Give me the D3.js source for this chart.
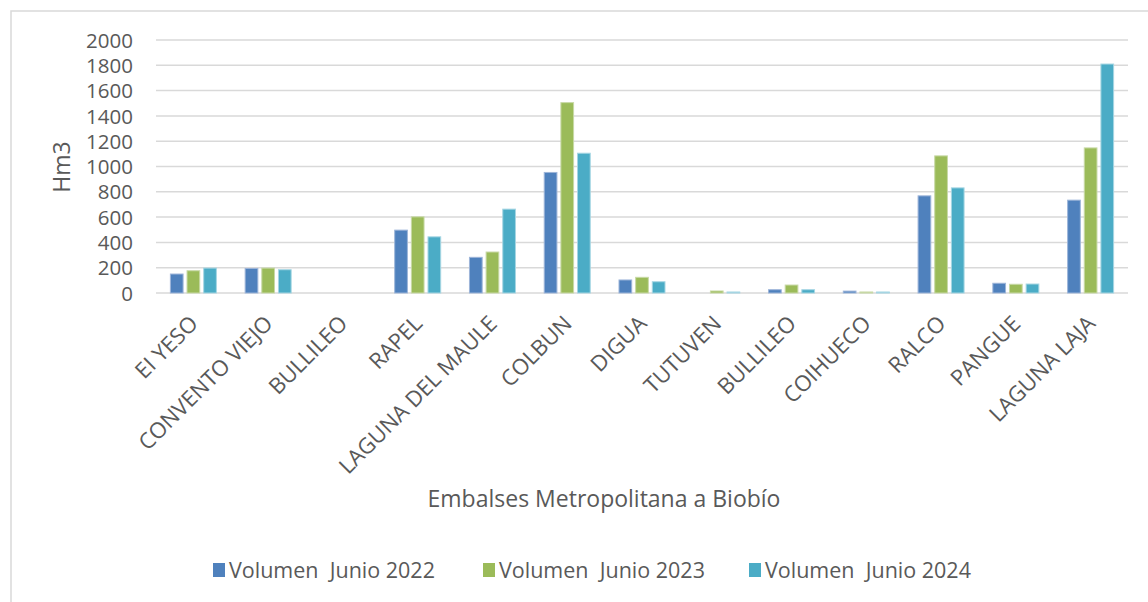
<!DOCTYPE html>
<html>
<head>
<meta charset="utf-8">
<script src="https://cdn.jsdelivr.net/npm/d3@7"></script>
<style>
  body { margin: 0; background: #fff; }
  svg { display: block; }
  text { font-family: "Open Sans", sans-serif; fill: #595959; }
</style>
</head>
<body>
<svg id="chart" width="1148" height="602"></svg>
<script>
const categories = ["EI YESO", "CONVENTO VIEJO", "BULLILEO", "RAPEL", "LAGUNA DEL MAULE", "COLBUN", "DIGUA", "TUTUVEN", "BULLILEO", "COIHUECO", "RALCO", "PANGUE", "LAGUNA LAJA"];
const seriesNames = ["Volumen  Junio 2022", "Volumen  Junio 2023", "Volumen  Junio 2024"];
const vol2022 = [150, 194, 0, 497, 282, 953, 103, 0, 26, 15, 768, 77, 734];
const vol2023 = [176, 197, 0, 602, 324, 1505, 124, 16, 63, 8, 1084, 69, 1147];
const vol2024 = [197, 184, 0, 444, 663, 1105, 89, 8, 26, 8, 831, 71, 1810];
const yTicks = [0, 200, 400, 600, 800, 1000, 1200, 1400, 1600, 1800, 2000];
const colors = ["#4F81BD", "#9BBB59", "#4BACC6"];
const strokes = ["#9db5d9", "#c8d9a6", "#a6d6e3"];

const series = [vol2022, vol2023, vol2024];
const svg = d3.select("#chart");

// outer chart border
svg.append("rect").attr("x", 11).attr("y", 11).attr("width", 1160).attr("height", 620)
  .attr("fill", "none").attr("stroke", "#d9d9d9").attr("stroke-width", 1.5);

const plotLeft = 156, plotRight = 1128, plotTop = 40, plotBottom = 293;
const y = d3.scaleLinear().domain([0, 2000]).range([plotBottom, plotTop]);
const x = d3.scaleBand().domain(d3.range(categories.length)).range([plotLeft, plotRight]).padding(0);
const x1 = d3.scaleBand().domain(d3.range(3)).range([0, x.bandwidth()])
  .paddingInner(0.237).paddingOuter(0.864);

// gridlines
svg.append("g").selectAll("line").data(yTicks).join("line")
  .attr("x1", plotLeft).attr("x2", plotRight)
  .attr("y1", d => y(d)).attr("y2", d => y(d))
  .attr("stroke", "#d9d9d9").attr("stroke-width", 1.5);

// y axis labels
const yAxis = d3.axisLeft(y).tickValues(yTicks).tickSize(0).tickPadding(0).tickFormat(d3.format("d"));
const yg = svg.append("g").attr("transform", `translate(133,0)`).call(yAxis);
yg.select(".domain").remove();
yg.selectAll("text").attr("font-size", 20.5).attr("font-family", "Open Sans").attr("fill", "#595959").attr("dy", "0.35em");

// bars
const groups = svg.append("g").selectAll("g").data(series).join("g")
  .attr("fill", (d, i) => colors[i]).attr("stroke", (d, i) => strokes[i]);
groups.each(function(vals, si) {
  d3.select(this).selectAll("rect").data(vals).join("rect")
    .attr("x", (d, i) => x(i) + x1(si))
    .attr("width", x1.bandwidth())
    .attr("y", d => y(d))
    .attr("height", d => plotBottom - y(d))
    .attr("stroke-width", d => d > 0 ? 1 : 0);
});

// x axis labels
const xAxis = d3.axisBottom(x).tickSize(0).tickFormat(i => categories[i]);
const xg = svg.append("g").attr("transform", `translate(0,${plotBottom})`).call(xAxis);
xg.select(".domain").remove();
xg.selectAll(".tick text")
  .attr("font-size", 22).attr("font-family", "Open Sans").attr("fill", "#595959")
  .attr("text-anchor", "end").attr("y", 0).attr("dy", 0)
  .attr("transform", "translate(6,32) rotate(-45)");

// axis titles
svg.append("text").attr("transform", "translate(70,167) rotate(-90)")
  .attr("text-anchor", "middle").attr("font-size", 23).text("Hm3");
svg.append("text").attr("x", 604).attr("y", 507)
  .attr("text-anchor", "middle").attr("font-size", 23).text("Embalses Metropolitana a Biobío");

// legend
const legendX = [213, 483, 749];
const lg = svg.append("g").selectAll("g").data(seriesNames).join("g")
  .attr("transform", (d, i) => `translate(${legendX[i]},0)`);
lg.append("rect").attr("x", 0).attr("y", 563).attr("width", 12).attr("height", 14)
  .attr("fill", (d, i) => colors[i]);
lg.append("text").attr("x", 16).attr("y", 578).attr("font-size", 21.5)
  .attr("xml:space", "preserve").style("white-space", "pre").text(d => d);
</script>
</body>
</html>
